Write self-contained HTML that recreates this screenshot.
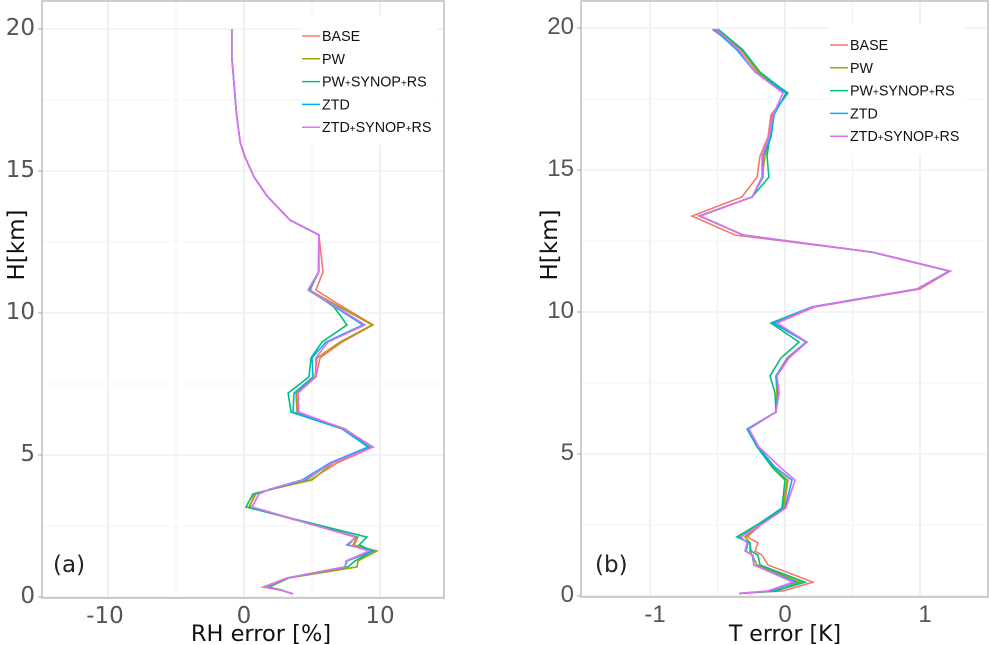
<!DOCTYPE html>
<html lang="en">
<head>
<meta charset="utf-8">
<title>RH and T error profiles</title>
<style>
html,body{margin:0;padding:0;background:#fff;width:990px;height:645px;overflow:hidden}
svg{display:block}
</style>
</head>
<body>
<svg id="chart" width="990" height="645" viewBox="0 0 990 645" xmlns="http://www.w3.org/2000/svg"></svg>
<script>
const seriesNames = ["BASE", "PW", "PW+SYNOP+RS", "ZTD", "ZTD+SYNOP+RS"];
const seriesColors = ["#F8766D", "#A3A500", "#00BF7D", "#00B0F6", "#E76BF3"];

const yMajorTicks = [0, 5, 10, 15, 20];
const yMinorTicks = [2.5, 7.5, 12.5, 17.5];
const leftXMajorTicks = [-10, 0, 10];
const leftXMinorTicks = [-5, 5];
const rightXMajorTicks = [-1, 0, 1];
const rightXMinorTicks = [-0.5, 0.5];

const leftHeights = [20,19.01,18.52,17,16.02,15.49,14.79,14.12,13.27,12.75,11.44,10.81,10.21,9.58,8.98,8.42,7.75,7.18,6.51,5.92,5.28,4.72,4.12,3.8,3.63,3.17,2.11,1.83,1.62,1.27,1.06,0.67,0.35,0.25,0.11];
const leftBase = [-0.9,-0.9,-0.81,-0.55,-0.29,0.07,0.74,1.69,3.38,5.51,5.81,5.29,7.28,9.49,7.21,5.59,5.29,3.90,3.97,7.28,9.49,6.84,4.85,2.06,0.74,0.44,8.38,8.09,9.56,7.57,7.43,3.16,1.40,2.65,3.60];
const leftPw = [-0.9,-0.9,-0.81,-0.55,-0.29,0.07,0.74,1.69,3.38,5.51,5.51,4.78,7.06,9.41,7.06,5.37,5.22,3.82,3.90,7.43,9.41,6.54,5.0,2.06,0.88,0.37,8.31,8.01,9.78,8.38,8.31,3.31,1.84,2.72,3.60];
const leftPwSynop = [-0.9,-0.9,-0.81,-0.55,-0.29,0.07,0.74,1.69,3.38,5.51,5.48,4.85,6.62,7.57,5.74,4.93,4.78,3.24,3.46,7.21,9.19,6.40,4.56,2.06,0.66,0.15,9.04,8.46,9.49,8.16,7.65,3.24,1.76,2.65,3.60];
const leftZtd = [-0.9,-0.9,-0.81,-0.55,-0.29,0.07,0.74,1.69,3.38,5.51,5.48,4.71,6.69,8.75,6.03,5.0,5.07,3.68,3.60,7.21,9.12,6.32,4.26,1.91,1.10,0.59,8.24,7.57,9.49,7.57,7.43,3.16,1.69,2.65,3.60];
const leftZtdSynop = [-0.9,-0.9,-0.81,-0.55,-0.29,0.07,0.74,1.69,3.38,5.51,5.51,4.71,6.84,8.90,6.18,5.29,5.29,3.97,4.04,7.35,9.49,6.47,4.41,1.91,1.10,0.59,8.16,7.72,9.19,7.5,7.43,3.16,1.54,2.57,3.60];

const rightHeights = [19.96,19.23,18.45,17.71,16.94,16.16,15.49,14.75,14.05,13.38,12.71,12.11,11.44,10.81,10.18,9.61,8.94,8.38,7.75,7.15,6.48,5.88,5.25,4.54,4.08,3.10,2.57,2.08,1.87,1.58,1.44,1.09,0.49,0.18,0.09];
const rightBase = [-0.541,-0.326,-0.2,0.022,-0.104,-0.126,-0.185,-0.207,-0.319,-0.689,-0.37,0.644,1.222,1.0,0.222,-0.059,0.156,0.015,-0.067,-0.059,-0.067,-0.274,-0.2,-0.089,0.022,-0.007,-0.163,-0.281,-0.2,-0.222,-0.17,-0.126,0.207,-0.015,-0.34];
const rightPw = [-0.504,-0.319,-0.207,0.022,-0.096,-0.111,-0.148,-0.17,-0.244,-0.637,-0.311,0.644,1.222,0.978,0.2,-0.067,0.163,0.022,-0.067,-0.059,-0.067,-0.274,-0.2,-0.089,0.015,-0.015,-0.17,-0.296,-0.259,-0.259,-0.244,-0.207,0.111,-0.06,-0.34];
const rightPwSynop = [-0.496,-0.311,-0.185,0.015,-0.089,-0.111,-0.133,-0.119,-0.244,-0.63,-0.311,0.644,1.222,0.978,0.2,-0.104,0.104,-0.03,-0.111,-0.074,-0.067,-0.281,-0.207,-0.096,0,-0.022,-0.185,-0.356,-0.259,-0.252,-0.2,-0.185,0.148,-0.074,-0.34];
const rightZtd = [-0.526,-0.356,-0.222,0.007,-0.081,-0.104,-0.163,-0.163,-0.244,-0.63,-0.311,0.644,1.215,0.978,0.2,-0.089,0.156,0.022,-0.067,-0.052,-0.067,-0.274,-0.2,-0.074,0.052,0,-0.163,-0.333,-0.274,-0.289,-0.244,-0.23,0.081,-0.11,-0.34];
const rightZtdSynop = [-0.511,-0.341,-0.222,-0.015,-0.089,-0.119,-0.17,-0.17,-0.244,-0.63,-0.311,0.644,1.222,0.978,0.207,-0.059,0.163,0.03,-0.059,-0.044,-0.067,-0.267,-0.193,-0.037,0.074,0.007,-0.156,-0.326,-0.281,-0.296,-0.237,-0.23,0.059,-0.126,-0.34];

const NS = "http://www.w3.org/2000/svg";
const root = document.getElementById("chart");

function make(parent, tag, attrs, name) {
  const el = document.createElementNS(NS, tag);
  for (const k in attrs) el.setAttribute(k, attrs[k]);
  
  
  parent.appendChild(el);
  return el;
}

function legendLabel(parent, x, y, label, name) {
  const t = make(parent, "text", {x: x, y: y, "font-family": '"Liberation Sans", sans-serif', "font-size": 14.3, fill: "#111"}, name);
  label.split(/(\+)/).forEach(function (part) {
    const s = document.createElementNS(NS, "tspan");
    if (part === "+") s.setAttribute("font-size", "10");
    s.textContent = part;
    t.appendChild(s);
  });
}

function drawPanel(cfg) {
  const xs = function (v) { return cfg.x0 + cfg.xScale * v; };
  const ys = function (h) { return cfg.y0 - cfg.yScale * h; };
  const g = make(root, "g", {}, cfg.id + "-panel");

  cfg.xMinor.forEach(function (v) {
    make(g, "line", {x1: xs(v), x2: xs(v), y1: cfg.top, y2: cfg.bottom, stroke: "#f1f1f1", "stroke-width": 1}, cfg.id + "-x-minor-gridline");
  });
  yMinorTicks.forEach(function (h) {
    make(g, "line", {x1: cfg.left, x2: cfg.right, y1: ys(h), y2: ys(h), stroke: "#f5f5f5", "stroke-width": 1}, cfg.id + "-y-minor-gridline");
  });
  cfg.xMajor.forEach(function (v) {
    make(g, "line", {x1: xs(v), x2: xs(v), y1: cfg.top, y2: cfg.bottom, stroke: "#ececec", "stroke-width": 1.5}, cfg.id + "-x-major-gridline");
  });
  yMajorTicks.forEach(function (h) {
    make(g, "line", {x1: cfg.left, x2: cfg.right, y1: ys(h), y2: ys(h), stroke: "#f0f0f0", "stroke-width": 1.5}, cfg.id + "-y-major-gridline");
  });

  cfg.series.forEach(function (vals, i) {
    const pts = vals.map(function (v, j) { return xs(v).toFixed(1) + "," + ys(cfg.heights[j]).toFixed(1); }).join(" ");
    make(g, "polyline", {points: pts, fill: "none", stroke: seriesColors[i], "stroke-width": 1.6, "stroke-linejoin": "miter"}, cfg.id + "-line-" + seriesNames[i].toLowerCase().replace(/\+/g, "-"));
  });

  make(g, "rect", {x: cfg.left, y: cfg.top, width: cfg.right - cfg.left, height: cfg.bottom - cfg.top, fill: "none", stroke: "#bdbdbd", "stroke-width": 1.5}, cfg.id + "-panel-border");

  yMajorTicks.forEach(function (h) {
    make(g, "line", {x1: cfg.left - 4, x2: cfg.left, y1: ys(h), y2: ys(h), stroke: "#aaa", "stroke-width": 1}, cfg.id + "-y-tick-mark");
    const t = make(g, "text", {x: cfg.left - 7, y: ys(h) + 6, "text-anchor": "end", "font-family": cfg.tickFont, "font-size": cfg.tickSize, fill: "#555"}, cfg.id + "-y-tick-label");
    t.textContent = h;
  });
  cfg.xMajor.forEach(function (v) {
    const t = make(g, "text", {x: xs(v) + cfg.xLabelShift(v), y: cfg.bottom + 25, "text-anchor": "middle", "font-family": cfg.tickFont, "font-size": cfg.tickSize, fill: "#555"}, cfg.id + "-x-tick-label");
    t.textContent = v;
  });

  const xt = make(g, "text", {x: cfg.titleX, y: 641, "text-anchor": "middle", "font-family": '"DejaVu Sans", sans-serif', "font-size": cfg.titleSize, fill: "#111"}, cfg.id + "-x-axis-title");
  xt.textContent = cfg.xTitle;
  const yt = make(g, "text", {transform: "translate(" + cfg.yTitleX + ",245) rotate(-90)", "text-anchor": "middle", "font-family": '"DejaVu Sans", sans-serif', "font-size": 23, fill: "#111"}, cfg.id + "-y-axis-title");
  yt.textContent = "H[km]";
  const tag = make(g, "text", {x: cfg.tagX, y: 572, "font-family": '"DejaVu Sans", sans-serif', "font-size": 23, fill: "#222"}, cfg.id + "-panel-tag");
  tag.textContent = cfg.tag;

  const lg = make(g, "g", {}, cfg.id + "-legend");
  make(lg, "rect", {x: cfg.legendX, y: cfg.legendY - 21, width: 135, height: 130, fill: "#fff"}, cfg.id + "-legend-background");
  seriesNames.forEach(function (n, i) {
    const y = cfg.legendY + i * 22.8;
    make(lg, "line", {x1: cfg.legendX, x2: cfg.legendX + 18, y1: y, y2: y, stroke: seriesColors[i], "stroke-width": 1.5}, cfg.id + "-legend-key");
    legendLabel(lg, cfg.legendX + 20, y + 5, n, cfg.id + "-legend-label");
  });
}

drawPanel({
  id: "rh", left: 42, right: 444, top: 1, bottom: 598, x0: 244, xScale: 13.6, y0: 597, yScale: 28.4,
  xMajor: leftXMajorTicks, xMinor: leftXMinorTicks, heights: leftHeights,
  series: [leftBase, leftPw, leftPwSynop, leftZtd, leftZtdSynop],
  xTitle: "RH error [%]", titleX: 261, titleSize: 22.5, yTitleX: 24, tag: "(a)", tagX: 53,
  legendX: 302, legendY: 36, tickFont: '"DejaVu Sans", sans-serif', tickSize: 23,
  xLabelShift: function (v) { return v < 0 ? -3 : 0; }
});

drawPanel({
  id: "t", left: 581, right: 988, top: 1, bottom: 597, x0: 785, xScale: 135, y0: 596, yScale: 28.4,
  xMajor: rightXMajorTicks, xMinor: rightXMinorTicks, heights: rightHeights,
  series: [rightBase, rightPw, rightPwSynop, rightZtd, rightZtdSynop],
  xTitle: "T error [K]", titleX: 785, titleSize: 22, yTitleX: 557, tag: "(b)", tagX: 595,
  legendX: 830, legendY: 45, tickFont: '"Liberation Sans", sans-serif', tickSize: 24,
  xLabelShift: function (v) { return v < 0 ? 5 : (v > 0 ? 5 : 0); }
});
</script>
</body>
</html>
